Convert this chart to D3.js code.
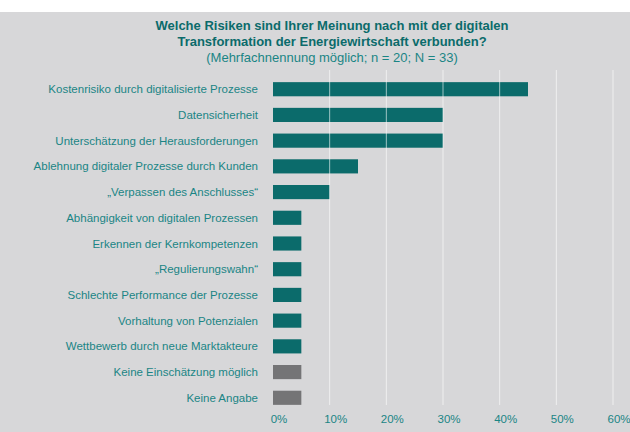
<!DOCTYPE html>
<html><head><meta charset="utf-8">
<script src="https://cdn.jsdelivr.net/npm/d3@7"></script>
<style>body{margin:0;background:#fff}</style>
</head><body>
<svg id="chart" width="630" height="432"></svg>
<script>
// Daten
const categories = [
  "Kostenrisiko durch digitalisierte Prozesse",
  "Datensicherheit",
  "Unterschätzung der Herausforderungen",
  "Ablehnung digitaler Prozesse durch Kunden",
  "„Verpassen des Anschlusses“",
  "Abhängigkeit von digitalen Prozessen",
  "Erkennen der Kernkompetenzen",
  "„Regulierungswahn“",
  "Schlechte Performance der Prozesse",
  "Vorhaltung von Potenzialen",
  "Wettbewerb durch neue Marktakteure",
  "Keine Einschätzung möglich",
  "Keine Angabe"
];
const values = [45, 30, 30, 15, 10, 5, 5, 5, 5, 5, 5, 5, 5];
const isNeutral = [false, false, false, false, false, false, false, false, false, false, false, true, true];
const ticks = [0, 10, 20, 30, 40, 50, 60];

const teal = "#0b6b6b", labelCol = "#1a8585";
const svg = d3.select("#chart");
svg.append("rect").attr("y", 12).attr("width", 630).attr("height", 420).attr("fill", "#d7d7d9");

const x = d3.scaleLinear().domain([0, 60]).range([273, 613]);
const y = d3.scaleBand().domain(categories).range([77, 410]).paddingInner(0.45).paddingOuter(0.2);

const title = svg.append("text").attr("text-anchor", "middle").attr("font-family", "Liberation Sans, Arial, sans-serif");
title.append("tspan").attr("x", 332).attr("y", 30).attr("font-weight", "bold").attr("font-size", 13).attr("fill", teal)
  .text("Welche Risiken sind Ihrer Meinung nach mit der digitalen");
title.append("tspan").attr("x", 332).attr("y", 46).attr("font-weight", "bold").attr("font-size", 13).attr("fill", teal)
  .text("Transformation der Energiewirtschaft verbunden?");
title.append("tspan").attr("x", 332).attr("y", 62).attr("font-size", 13).attr("fill", labelCol)
  .text("(Mehrfachnennung möglich; n = 20; N = 33)");

svg.append("g").selectAll("rect").data(categories).join("rect")
  .attr("x", x(0)).attr("y", d => y(d))
  .attr("width", (d, i) => x(values[i]) - x(0)).attr("height", y.bandwidth())
  .attr("fill", (d, i) => isNeutral[i] ? "#747476" : teal);

// Gitterlinien (über den Balken, leicht transparent)
svg.append("g").selectAll("line").data(ticks.slice(1)).join("line")
  .attr("x1", d => x(d)).attr("x2", d => x(d)).attr("y1", 70).attr("y2", 405)
  .attr("stroke", "#fff").attr("stroke-opacity", 0.6).attr("stroke-width", 1);

svg.append("g").selectAll("text").data(categories).join("text")
  .attr("x", 258).attr("y", d => y(d) + y.bandwidth() / 2 + 4)
  .attr("text-anchor", "end").attr("font-family", "Liberation Sans, Arial, sans-serif")
  .attr("font-size", 11.5).attr("fill", labelCol).text(d => d);

svg.append("g").selectAll("text").data(ticks).join("text")
  .attr("x", d => x(d) + 6).attr("y", 423).attr("text-anchor", "middle")
  .attr("font-family", "Liberation Sans, Arial, sans-serif").attr("font-size", 11.5)
  .attr("fill", labelCol).text(d => d + "%");
</script>
</body></html>
